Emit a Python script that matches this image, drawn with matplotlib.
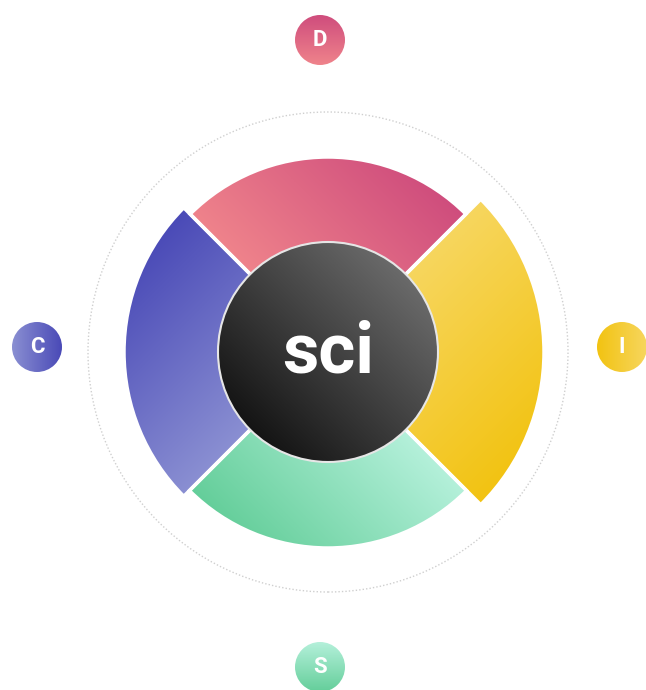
import numpy as np
import matplotlib.pyplot as plt
from matplotlib.patches import Wedge, Circle
from matplotlib.colors import LinearSegmentedColormap

# DISC-style ring chart, sizes in pixels
labels = ["D", "C", "S", "I"]
radii = [195, 204, 196, 216]
start_angles = [45, 135, 225, 315]
light_colors = ["#EF838B", "#8A8FD2", "#B4F0DA", "#F7D65E"]
dark_colors = ["#CF4D7D", "#4A4AB7", "#64CE9A", "#F2C312"]
# gradient direction (light -> dark), y axis up
grad_dirs = [(1, 1), (-1, 1), (-1, -1), (1, -1)]
badge_dirs = [(0, 1), (1, 0), (0, -1), (-1, 0)]
label_dist = [307, 283, 320, 302]
center_label = "sci"

W, H = 646, 690
cx, cy = 328, H - 352
inner_r = 110
outer_dotted_r = 240
badge_r = 25
badge_shift = (-8, 5)

plt.rcParams["font.family"] = ["Roboto", "DejaVu Sans"]

fig = plt.figure(figsize=(W / 100, H / 100), dpi=100)
ax = fig.add_axes([0, 0, 1, 1])
ax.set_xlim(0, W)
ax.set_ylim(0, H)
ax.set_aspect("equal")
ax.axis("off")


def gradient_fill(patch, x0, x1, y0, y1, c_light, c_dark, direction, z):
    ax.add_patch(patch)
    xs = np.linspace(x0, x1, 250)
    ys = np.linspace(y0, y1, 250)
    X, Y = np.meshgrid(xs, ys)
    dx, dy = direction
    t = X * dx + Y * dy
    # normalise over the area the patch actually covers
    pts = np.column_stack([X.ravel(), Y.ravel()])
    inside = patch.get_path().contains_points(
        pts, transform=patch.get_patch_transform()).reshape(X.shape)
    if inside.any():
        lo, hi = t[inside].min(), t[inside].max()
    else:
        lo, hi = t.min(), t.max()
    t = np.clip((t - lo) / (hi - lo), 0, 1)
    cmap = LinearSegmentedColormap.from_list("g", [c_light, c_dark])
    im = ax.imshow(t, cmap=cmap, extent=[x0, x1, y0, y1], origin="lower",
                   zorder=z, interpolation="bilinear")
    im.set_clip_path(patch)


# dotted guide circle
ax.add_patch(Circle((cx, cy), outer_dotted_r, fill=False, ec="#cfcfcf",
                    lw=1.0, ls=(0, (1, 1.5)), zorder=1))

for r, a0, cl, cd, gd in zip(radii, start_angles, light_colors,
                             dark_colors, grad_dirs):
    w = Wedge((cx, cy), r, a0, a0 + 90, width=r - inner_r + 5,
              fc="none", ec="none")
    gradient_fill(w, cx - r, cx + r, cy - r, cy + r, cl, cd, gd, 2)
    ax.add_patch(Wedge((cx, cy), r, a0, a0 + 90, width=r - inner_r + 5,
                       fc="none", ec="white", lw=2.5, zorder=3))

# center disc
c = Circle((cx, cy), inner_r, fc="none", ec="none")
gradient_fill(c, cx - inner_r, cx + inner_r, cy - inner_r, cy + inner_r,
              "#141414", "#6a6a6a", (1, 1), 4)
ax.add_patch(Circle((cx, cy), inner_r, fc="none", ec="#e6e6e6", lw=1.5,
                    zorder=5))
ax.text(cx, cy - 1, center_label, ha="center", va="center", color="white",
        fontsize=51, fontweight="bold", zorder=6)

# label badges
for lab, a0, d, cl, cd, bd in zip(labels, start_angles, label_dist,
                                  light_colors, dark_colors, badge_dirs):
    ang = np.deg2rad(a0 + 45)
    bx = cx + d * np.cos(ang) + badge_shift[0]
    by = cy + d * np.sin(ang) + badge_shift[1]
    b = Circle((bx, by), badge_r, fc="none", ec="none")
    gradient_fill(b, bx - badge_r, bx + badge_r, by - badge_r, by + badge_r,
                  cl, cd, bd, 7)
    ax.text(bx, by, lab, ha="center", va="center", color="white",
            fontsize=16, fontweight="bold", zorder=8)

fig.savefig("out.png", dpi=100)
